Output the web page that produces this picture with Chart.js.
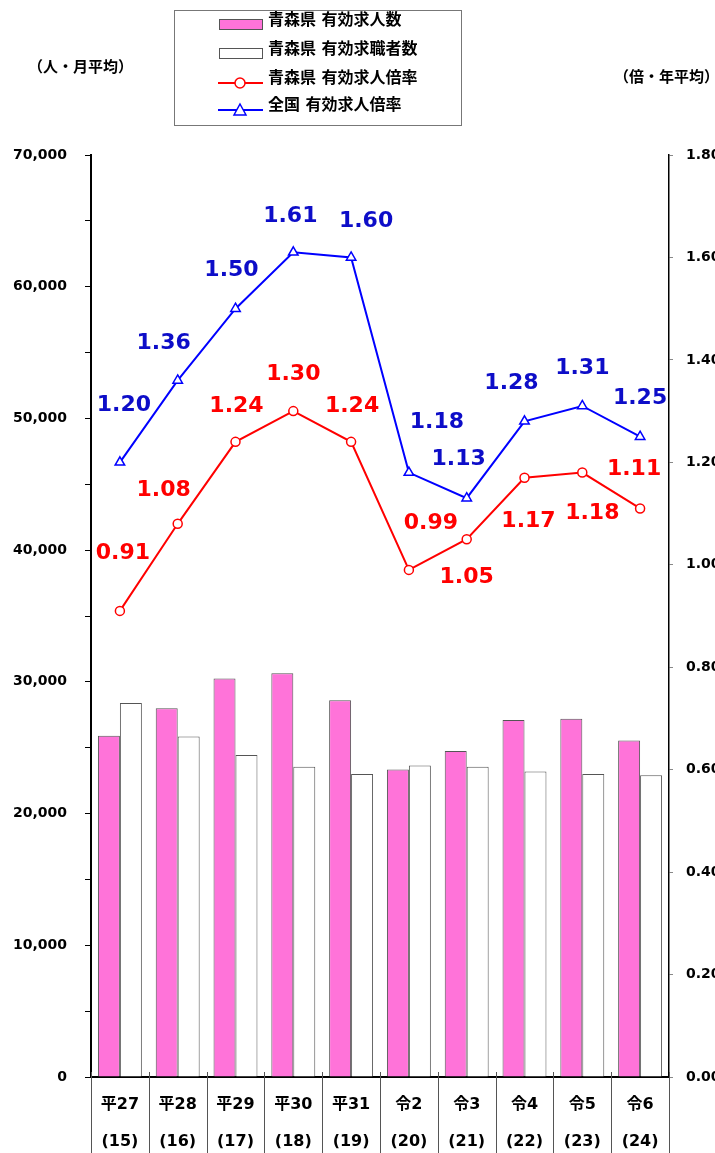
<!DOCTYPE html>
<html lang="ja">
<head>
<meta charset="utf-8">
<title>有効求人数・有効求職者数・有効求人倍率</title>
<script src="https://cdn.jsdelivr.net/npm/chart.js@4/dist/chart.umd.min.js"></script>
<style>
  html, body { margin: 0; padding: 0; background: #fff; }
  #wrap { position: relative; width: 715px; height: 1153px; }
</style>
</head>
<body>
<div id="wrap"><canvas id="chart"></canvas></div>
<script>
const years = [
  ["平27", "(15)"], ["平28", "(16)"], ["平29", "(17)"], ["平30", "(18)"], ["平31", "(19)"],
  ["令2", "(20)"], ["令3", "(21)"], ["令4", "(22)"], ["令5", "(23)"], ["令6", "(24)"]
];

// 人・月平均
const jobOffers = [25900, 28000, 30250, 30650, 28600, 23350, 24750, 27100, 27200, 25550];
const jobSeekers = [28400, 25850, 24450, 23550, 23000, 23650, 23550, 23200, 23000, 22900];

// 倍・年平均
const aomoriRatio = [0.91, 1.08, 1.24, 1.30, 1.24, 0.99, 1.05, 1.17, 1.18, 1.11];
const nationalRatio = [1.20, 1.36, 1.50, 1.61, 1.60, 1.18, 1.13, 1.28, 1.31, 1.25];

// label offsets from each point, in px
const aomoriLabelShift = [[3,-58],[-14,-34],[1,-36],[0,-37],[1,-36],[22,-47],[0,38],[4,44],[10,41],[-6,-39]];
const nationalLabelShift = [[4,-57],[-14,-37],[-4,-38],[-3,-36],[15,-36],[28,-50],[-8,-39],[-13,-38],[0,-38],[0,-38]];

const FONT = '"DejaVu Sans", "Noto Sans CJK JP", sans-serif';
const PINK = "#ff73d9";

const extras = {
  id: "extras",
  afterDraw(chart) {
    const c = chart.ctx;
    const x = chart.scales.x;
    const area = chart.chartArea;

    // category separators below the axis
    const half = (x.getPixelForValue(1) - x.getPixelForValue(0)) / 2;
    c.save();
    c.strokeStyle = "#555";
    c.lineWidth = 1;
    for (let i = 0; i <= years.length; i++) {
      const px = Math.round(x.getPixelForValue(i) - half) + 0.5;
      c.beginPath();
      c.moveTo(px, area.bottom - 5);
      c.lineTo(px, chart.height);
      c.stroke();
    }

    // value labels on the ratio lines
    c.font = "bold 22px " + FONT;
    c.textAlign = "center";
    c.textBaseline = "middle";
    [[2, aomoriLabelShift, "#ff0000"], [3, nationalLabelShift, "#0d0dc8"]].forEach(([di, shift, col]) => {
      const meta = chart.getDatasetMeta(di);
      const ds = chart.data.datasets[di];
      c.fillStyle = col;
      meta.data.forEach((pt, i) => {
        c.fillText(ds.data[i].toFixed(2), pt.x + shift[i][0], pt.y + shift[i][1]);
      });
    });

    // unit captions
    c.fillStyle = "#000";
    c.textAlign = "left";
    c.font = "bold 15px " + FONT;
    c.fillText("（人・月平均）", 28, 68);
    c.fillText("（倍・年平均）", 614, 78);

    // legend
    c.strokeStyle = "#777";
    c.lineWidth = 1;
    c.strokeRect(174.5, 10.5, 287, 115);
    const rows = [21, 50, 79, 106];
    c.font = "bold 16px " + FONT;
    c.textAlign = "left";
    chart.data.datasets.forEach((ds, i) => {
      const y = rows[i];
      if (ds.type === "bar") {
        c.fillStyle = ds.backgroundColor;
        c.fillRect(219, y - 2, 44, 11);
        c.strokeStyle = "#555";
        c.strokeRect(219.5, y - 1.5, 43, 10);
      } else {
        const ly = y + 4;
        c.strokeStyle = ds.borderColor;
        c.lineWidth = 2;
        c.beginPath();
        c.moveTo(218, ly);
        c.lineTo(263, ly);
        c.stroke();
        c.fillStyle = "#fff";
        c.lineWidth = 1.5;
        c.beginPath();
        if (ds.pointStyle === "triangle") {
          c.moveTo(240, ly - 6);
          c.lineTo(246, ly + 5);
          c.lineTo(234, ly + 5);
          c.closePath();
        } else {
          c.arc(240, ly, 5, 0, Math.PI * 2);
        }
        c.fill();
        c.stroke();
        c.lineWidth = 1;
      }
      c.fillStyle = "#000";
      c.fillText(ds.label, 268, y);
    });
    c.restore();
  }
};

new Chart(document.getElementById("chart"), {
  data: {
    labels: years,
    datasets: [
      {
        type: "bar",
        label: "青森県 有効求人数",
        data: jobOffers,
        backgroundColor: PINK,
        borderColor: "#555",
        borderWidth: 1,
        categoryPercentage: 0.76,
        barPercentage: 1.0,
        yAxisID: "y",
        order: 2
      },
      {
        type: "bar",
        label: "青森県 有効求職者数",
        data: jobSeekers,
        backgroundColor: "#fff",
        borderColor: "#555",
        borderWidth: 1,
        categoryPercentage: 0.76,
        barPercentage: 1.0,
        yAxisID: "y",
        order: 2
      },
      {
        type: "line",
        label: "青森県 有効求人倍率",
        data: aomoriRatio,
        borderColor: "#ff0000",
        borderWidth: 2,
        pointStyle: "circle",
        pointRadius: 4.5,
        pointBackgroundColor: "#fff",
        pointBorderColor: "#ff0000",
        pointBorderWidth: 1.5,
        tension: 0,
        yAxisID: "y1",
        order: 0
      },
      {
        type: "line",
        label: "全国 有効求人倍率",
        data: nationalRatio,
        borderColor: "#0000ff",
        borderWidth: 2,
        pointStyle: "triangle",
        pointRadius: 5.5,
        pointBackgroundColor: "#fff",
        pointBorderColor: "#0000ff",
        pointBorderWidth: 1.5,
        tension: 0,
        yAxisID: "y1",
        order: 1
      }
    ]
  },
  options: {
    responsive: true,
    maintainAspectRatio: false,
    animation: false,
    layout: { padding: { top: 155, left: 0, right: 0, bottom: 0 } },
    plugins: {
      legend: { display: false },
      tooltip: { enabled: false }
    },
    scales: {
      x: {
        offset: true,
        grid: { display: true, drawOnChartArea: false, drawTicks: false, color: "rgba(0,0,0,0)" },
        border: { color: "#000", width: 2 },
        ticks: {
          color: "#000",
          font: { family: FONT, size: 16, weight: "bold", lineHeight: "37px" },
          padding: 9,
          maxRotation: 0,
          autoSkip: false
        },
        afterFit(scale) { scale.height = 76; }
      },
      y: {
        position: "left",
        min: 0,
        max: 70000,
        grid: { drawOnChartArea: false, tickLength: 6, color: "#000", tickColor: "#000" },
        border: { color: "#000", width: 2 },
        ticks: {
          stepSize: 5000,
          autoSkip: false,
          color: "#000",
          padding: 18,
          font: { family: FONT, size: 14, weight: "bold" },
          callback: v => (v % 10000 === 0 ? v.toLocaleString("en-US") : "")
        },
        afterFit(scale) { scale.width = 91; }
      },
      y1: {
        position: "right",
        min: 0,
        max: 1.8,
        grid: { drawOnChartArea: false, tickLength: 4, color: "#888", tickColor: "#888" },
        border: { color: "#000", width: 1.5 },
        ticks: {
          stepSize: 0.2,
          autoSkip: false,
          color: "#000",
          padding: 13,
          font: { family: FONT, size: 14, weight: "bold" },
          callback: v => v.toFixed(2)
        },
        afterFit(scale) { scale.width = 46; }
      }
    }
  },
  plugins: [extras]
});
</script>
</body>
</html>
